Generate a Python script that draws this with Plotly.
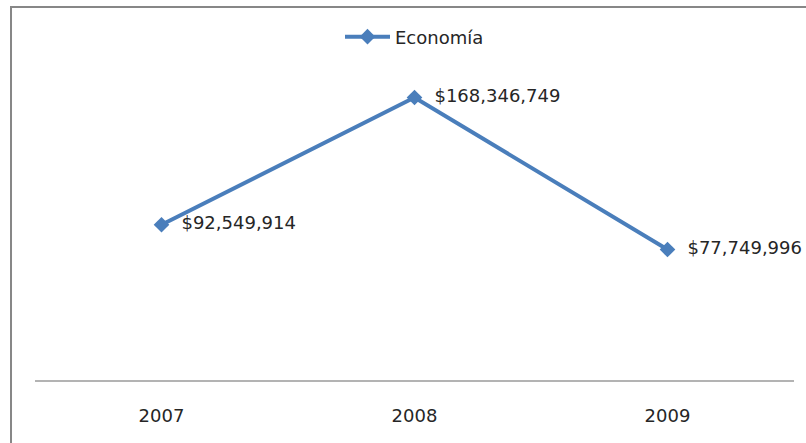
import plotly.graph_objects as go

years = ["2007", "2008", "2009"]
economia = [92549914, 168346749, 77749996]
serie_name = "Economía"

fig = go.Figure()
fig.add_trace(go.Scatter(
    x=years, y=economia, name=serie_name,
    mode="lines+markers+text",
    line=dict(color="#4A7EBB", width=4),
    marker=dict(symbol="diamond", size=12, color="#4A7EBB"),
    texttemplate="  %{y:$,.0f}",
    textposition="middle right",
    textfont=dict(family="DejaVu Sans", size=18, color="#262626"),
    cliponaxis=False,
))

# marco del grafico
fig.add_shape(type="rect", xref="paper", yref="paper",
              x0=-0.0316, x1=1.1, y0=-0.5, y1=1.235,
              line=dict(color="#878787", width=2), layer="below")

fig.update_layout(
    width=806, height=443,
    margin=dict(l=35, r=12, t=78, b=63),
    paper_bgcolor="white", plot_bgcolor="white",
    font=dict(family="DejaVu Sans", size=18, color="#262626"),
    showlegend=True,
    legend=dict(orientation="h", x=0.5, xanchor="center", y=1.136, yanchor="middle",
                itemwidth=45, font=dict(size=18)),
    xaxis=dict(range=[-0.5, 2.5], showline=True, linecolor="#B3B3B3", linewidth=2,
               showgrid=False, ticks="", ticklabelstandoff=18, fixedrange=True),
    yaxis=dict(range=[0, 180e6], visible=False, showgrid=False, fixedrange=True),
)

fig.write_html("out.html", config={"displayModeBar": False},
               post_script="document.body.style.margin='0';")
